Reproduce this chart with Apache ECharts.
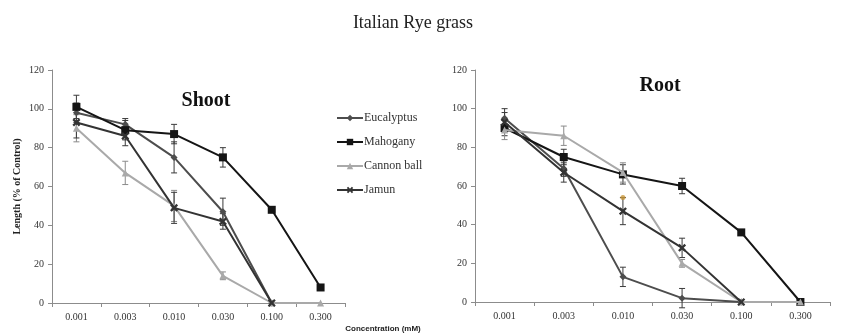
<!DOCTYPE html>
<html><head><meta charset="utf-8">
<script src="https://cdn.jsdelivr.net/npm/echarts@6/dist/echarts.min.js"></script>
<style>html,body{margin:0;padding:0;background:#fff}#c{width:843px;height:335px}</style>
</head><body><div id="c"></div>
<script>
const categories = ['0.001','0.003','0.010','0.030','0.100','0.300'];
const yTicks = [0,20,40,60,80,100,120];
const seriesNames = ['Eucalyptus','Mahogany','Cannon ball','Jamun'];

const shootEucalyptus = [98, 92, 75, 47, 0, null];
const shootMahogany   = [101, 89, 87, 75, 48, 8];
const shootCannonball = [90, 67, 50, 14, 0, 0];
const shootJamun      = [93, 86, 49, 42, 0, null];
const shootEucalyptusErr = [5, 3, 8, 7, 0, 0];
const shootMahoganyErr   = [6, 5, 5, 5, 0, 0];
const shootCannonballErr = [7, 6, 8, 2, 0, 0];
const shootJamunErr      = [8, 5, 8, 4, 0, 0];

const rootEucalyptus = [95, 69, 13, 2, 0, null];
const rootMahogany   = [90, 75, 66, 60, 36, 0];
const rootCannonball = [89, 86, 67, 20, 0, 0];
const rootJamun      = [93, 67, 47, 28, 0, null];
const rootEucalyptusErr = [5, 4, 5, 5, 0, 0];
const rootMahoganyErr   = [4, 4, 5, 4, 0, 0];
const rootCannonballErr = [5, 5, 5, 2, 0, 0];
const rootJamunErr      = [5, 5, 7, 5, 0, 0];
const rootStray = [[2, 54]];

const colors = ['#4d4d4d', '#151515', '#a9a9a9', '#333333'];
const xSym = 'path://M2,0 L5,3 L8,0 L10,2 L7,5 L10,8 L8,10 L5,7 L2,10 L0,8 L3,5 L0,2 Z';
const symbols = ['diamond', 'rect', 'triangle', xSym];
const symSizes = [7, 8, 7, 8];
const serif = 'Liberation Serif';

function lineSeries(i, data, gi) {
  return {
    type: 'line', name: seriesNames[i], xAxisIndex: gi, yAxisIndex: gi,
    data: data, symbol: symbols[i], symbolSize: symSizes[i],
    lineStyle: {color: colors[i], width: 2}, itemStyle: {color: colors[i]},
    z: 3 + i, animation: false
  };
}
function errSeries(i, data, err, gi) {
  const d = [];
  data.forEach((v, k) => { if (v !== null && err[k] > 0) d.push([k, v, err[k]]); });
  return {
    type: 'custom', xAxisIndex: gi, yAxisIndex: gi, data: d, z: 2, silent: true,
    renderItem: function (params, api) {
      const x = api.value(0), y = api.value(1), e = api.value(2);
      const hi = api.coord([x, y + e]), lo = api.coord([x, y - e]);
      const w = 3;
      const st = {stroke: colors[i] === '#a9a9a9' ? '#8a8a8a' : '#3a3a3a', lineWidth: 1};
      return {type: 'group', children: [
        {type: 'line', shape: {x1: hi[0], y1: hi[1], x2: lo[0], y2: lo[1]}, style: st},
        {type: 'line', shape: {x1: hi[0]-w, y1: hi[1], x2: hi[0]+w, y2: hi[1]}, style: st},
        {type: 'line', shape: {x1: lo[0]-w, y1: lo[1], x2: lo[0]+w, y2: lo[1]}, style: st}
      ]};
    }, animation: false
  };
}
function xAx(gi) {
  return {
    type: 'category', gridIndex: gi, data: categories, boundaryGap: true,
    axisLine: {lineStyle: {color: '#8c8c8c', width: 1}},
    axisTick: {show: true, inside: false, length: 4, lineStyle: {color: '#8c8c8c'}},
    axisLabel: {fontFamily: serif, fontSize: 10, color: '#333', margin: 9}
  };
}
function yAx(gi, name) {
  return {
    type: 'value', gridIndex: gi, min: yTicks[0], max: yTicks[yTicks.length-1], interval: 20,
    axisLine: {show: true, lineStyle: {color: '#8c8c8c', width: 1}},
    axisTick: {show: true, length: 4, lineStyle: {color: '#8c8c8c'}},
    splitLine: {show: false},
    axisLabel: {fontFamily: serif, fontSize: 10, color: '#333', margin: 8},
    name: name, nameLocation: 'middle', nameGap: 30, nameRotate: 90,
    nameTextStyle: {fontFamily: serif, fontSize: 10, fontWeight: 'bold', color: '#222'}
  };
}

const shootSets = [[shootEucalyptus, shootEucalyptusErr],[shootMahogany, shootMahoganyErr],[shootCannonball, shootCannonballErr],[shootJamun, shootJamunErr]];
const rootSets = [[rootEucalyptus, rootEucalyptusErr],[rootMahogany, rootMahoganyErr],[rootCannonball, rootCannonballErr],[rootJamun, rootJamunErr]];

const series = [];
shootSets.forEach((s, i) => { series.push(errSeries(i, s[0], s[1], 0)); series.push(lineSeries(i, s[0], 0)); });
rootSets.forEach((s, i) => { series.push(errSeries(i, s[0], s[1], 1)); series.push(lineSeries(i, s[0], 1)); });
series.push({type: 'scatter', xAxisIndex: 1, yAxisIndex: 1, data: rootStray, symbolSize: 5,
  itemStyle: {color: '#c8963a'}, z: 10, silent: true, animation: false});

const chart = echarts.init(document.getElementById('c'));
chart.setOption({
  backgroundColor: '#fff',
  animation: false,
  title: [
    {text: 'Italian Rye grass', left: 408, top: 9, textAlign: 'center',
     textStyle: {fontFamily: serif, fontSize: 18, fontWeight: 'normal', color: '#222'}},
    {text: 'Shoot', left: 201, top: 86, textAlign: 'center',
     textStyle: {fontFamily: serif, fontSize: 20, fontWeight: 'bold', color: '#111'}},
    {text: 'Root', left: 655, top: 71, textAlign: 'center',
     textStyle: {fontFamily: serif, fontSize: 20, fontWeight: 'bold', color: '#111'}},
    {text: 'Concentration (mM)', left: 378, top: 320, textAlign: 'center',
     textStyle: {fontFamily: 'Liberation Sans', fontSize: 8, fontWeight: 'bold', color: '#222'}}
  ],
  legend: {
    orient: 'vertical', left: 331, top: 107, itemGap: 12, itemWidth: 26, itemHeight: 8,
    data: seriesNames,
    textStyle: {fontFamily: serif, fontSize: 12, color: '#333', padding: [0,0,0,-4]}
  },
  grid: [
    {left: 52, width: 293, top: 70, height: 233},
    {left: 475, width: 355, top: 70, height: 232}
  ],
  xAxis: [xAx(0), xAx(1)],
  yAxis: [yAx(0, 'Length (% of Control)'), yAx(1, '')],
  series: series
});
</script></body></html>
